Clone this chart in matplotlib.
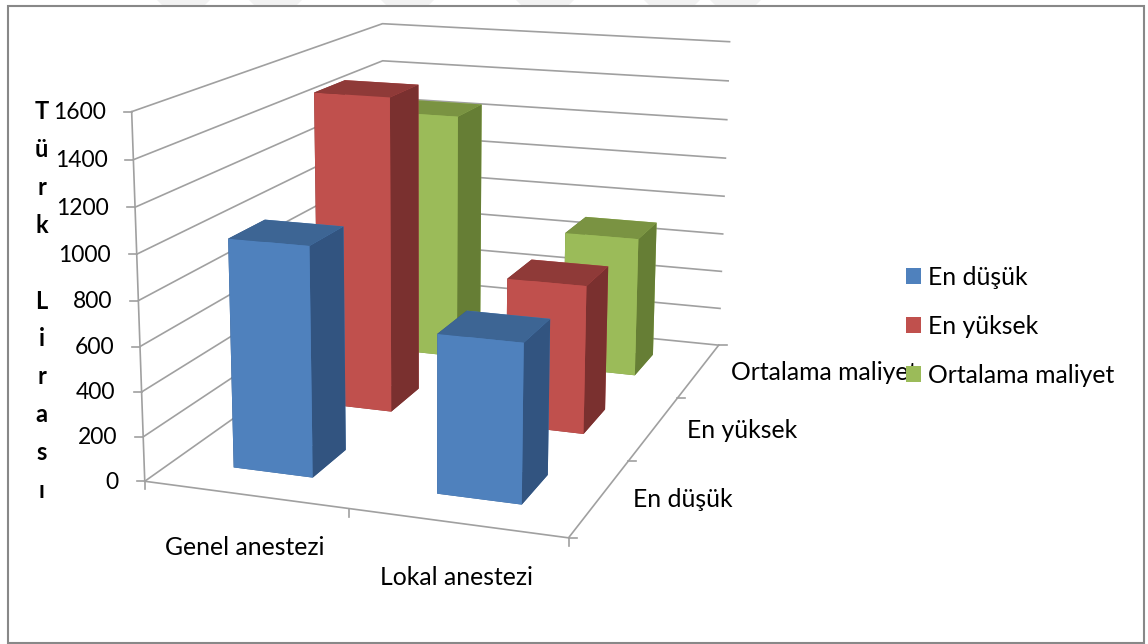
import matplotlib
matplotlib.use("Agg")
import matplotlib.pyplot as plt
from matplotlib.patches import Patch, Polygon, Rectangle
from mpl_toolkits.mplot3d import proj3d

W, H = 1148, 644

categories = ["Genel anestezi", "Lokal anestezi"]
series = ["En düşük", "En yüksek", "Ortalama maliyet"]
en_dusuk = [1025, 700]
en_yuksek = [1500, 700]
ortalama = [1250, 700]
yticks = [0, 200, 400, 600, 800, 1000, 1200, 1400, 1600]
ylabel_letters = ["T", "ü", "r", "k", "", "L", "i", "r", "a", "s", "ı"]

# top, front, side
colors = [("#3D6594", "#4F81BD", "#325480"),
          ("#8F3A38", "#C0504D", "#7A302F"),
          ("#7A9342", "#9BBB59", "#667E35")]
grid = "#A0A0A0"
FS = 17.8
TICK_FS = 16.5

plt.rcParams["font.family"] = ["Lato", "DejaVu Sans"]
fig = plt.figure(figsize=(W/100, H/100), dpi=100)

# camera fitted to the axis corners of the picture
ax = fig.add_axes([61.2055/W, 0.4272/H, 780.1263/W, 780.1263/H], projection="3d")
ax.view_init(elev=13.9216, azim=-70.9345, roll=-0.2372)
ax.set_proj_type("persp", focal_length=0.4836)
ax.set_box_aspect((1, 1.4970, 0.8504))
ax.set_axis_off()
ax.computed_zorder = False

bw, bd = 0.3968, 0.3979
vals = [en_dusuk, en_yuksek, ortalama]
order = 10
for c in range(len(categories)):
    for s in [2, 1, 0]:
        tc, fr, sd = colors[s]
        ax.bar3d(c + .5 - bw/2, s + .5 - bd/2, 0, bw, bd, vals[s][c],
                 color=[tc, tc, fr, fr, sd, sd], shade=False, zorder=order)
        order += 1
ax.set_xlim(0, 2, view_margin=0)
ax.set_ylim(0, 3, view_margin=0)
ax.set_zlim(0, 1600, view_margin=0)

for z in yticks:
    ax.plot([0, 0, 2], [0, 3, 3], [z, z, z], color=grid, lw=1.2, zorder=1)
ax.plot([0, 2, 2], [0, 0, 3], [0, 0, 0], color=grid, lw=1.2, zorder=1)
ax.plot([0, 0], [0, 0], [0, 1600], color=grid, lw=1.2, zorder=1)

def px(x, y, z):
    X, Y, _ = proj3d.proj_transform(x, y, z, ax.get_proj())
    p = ax.transData.transform((X, Y))
    return p[0], H - p[1]

# overlay in picture pixels for ticks, texts and the frame
ov = fig.add_axes([0, 0, 1, 1])
ov.set_xlim(0, W)
ov.set_ylim(H, 0)
ov.axis("off")
ov.patch.set_visible(False)

for a, b in [(157, 210), (249, 302), (381, 434), (516, 574), (644, 700), (710, 761)]:
    ov.add_patch(Polygon([(a, 0), (b, 0), (b-5, 5), (a+5, 5)], fc="#F2F2F2", ec="none"))
ov.add_patch(Rectangle((8, 5.5), 1135.5, 637, fill=False, ec="#888888", lw=1.5))

for z in yticks:
    x, y = px(0, 0, z)
    ov.plot([x-8, x], [y, y], color=grid, lw=1.2)
    ov.text(x-26, y+1, str(z), ha="right", va="center", fontsize=TICK_FS, color="black")
for c in range(3):
    x, y = px(c, 0, 0)
    ov.plot([x, x], [y, y+8], color=grid, lw=1.2)
for s in range(4):
    x, y = px(2, s, 0)
    ov.plot([x, x+8], [y, y], color=grid, lw=1.2)

for i, ch in enumerate(ylabel_letters):
    ov.text(41.5, 119 + 37.9*i, ch, ha="center", va="baseline", fontsize=17, fontweight="bold")

ov.text(245, 555, categories[0], ha="center", va="baseline", fontsize=FS)
ov.text(456, 585, categories[1], ha="center", va="baseline", fontsize=FS)
ov.text(633, 507, series[0], ha="left", va="baseline", fontsize=FS)
ov.text(687, 438, series[1], ha="left", va="baseline", fontsize=FS)
ov.text(731, 380, series[2], ha="left", va="baseline", fontsize=FS)

handles = [Patch(fc=colors[i][1], ec="none", label=series[i]) for i in range(3)]
ov.legend(handles=handles, loc="upper left", bbox_to_anchor=(906, 266), bbox_transform=ov.transData,
          frameon=False, fontsize=FS, borderpad=0, borderaxespad=0, labelspacing=1.045,
          handlelength=0.61, handleheight=0.61, handletextpad=0.28)

fig.savefig("out.png", dpi=100)
